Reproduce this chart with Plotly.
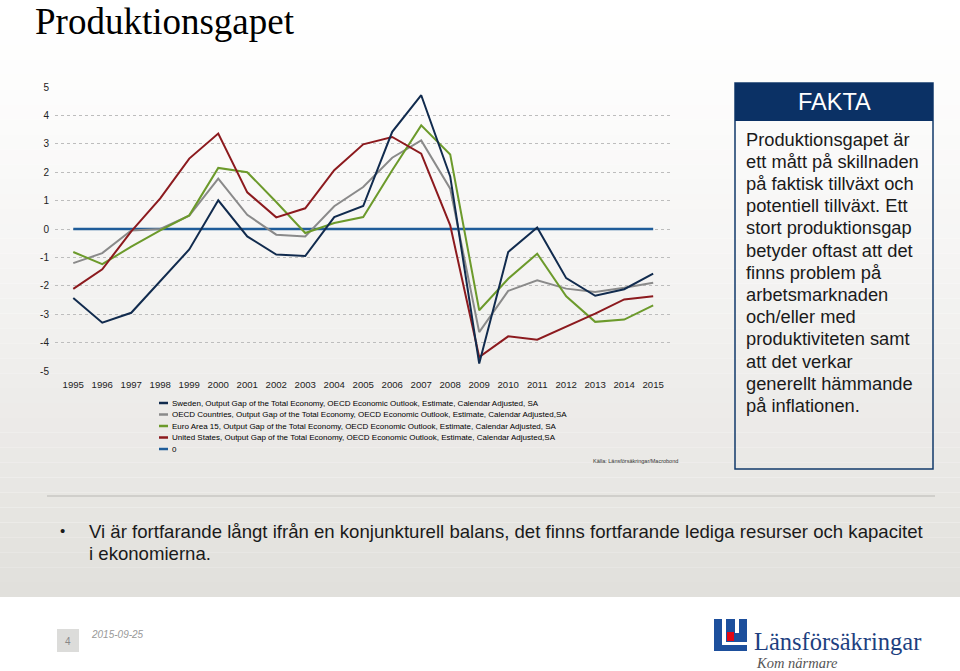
import plotly.graph_objects as go

# data
years = list(range(1995, 2016))

sweden = [-2.43, -3.30, -2.95, -1.85, -0.72, 1.01, -0.26, -0.90, -0.95, 0.42, 0.81,
          3.42, 4.71, 1.85, -4.74, -0.81, 0.05, -1.73, -2.35, -2.12, -1.57]
oecd = [-1.20, -0.85, -0.05, 0.00, 0.47, 1.77, 0.50, -0.20, -0.26, 0.80, 1.48,
        2.51, 3.12, 1.42, -3.63, -2.18, -1.81, -2.10, -2.22, -2.07, -1.89]
euro = [-0.81, -1.24, -0.62, -0.05, 0.48, 2.15, 2.00, 0.95, -0.14, 0.21, 0.42,
        2.07, 3.65, 2.62, -2.86, -1.75, -0.87, -2.37, -3.27, -3.19, -2.69]
usa = [-2.11, -1.42, -0.08, 1.08, 2.48, 3.36, 1.29, 0.41, 0.73, 2.07, 2.98,
       3.24, 2.65, 0.13, -4.51, -3.78, -3.90, -3.43, -2.98, -2.48, -2.37]
zero = [0] * len(years)

y_ticks = [5, 4, 3, 2, 1, 0, -1, -2, -3, -4, -5]
y_ticklabels = ["5", "4", "3", "2", "1", "0", "-1", "-2", "-3", "-4", "-5"]

series_names = [
    "Sweden, Output Gap of the Total Economy, OECD Economic Outlook, Estimate, Calendar Adjusted, SA",
    "OECD Countries, Output Gap of the Total Economy, OECD Economic Outlook, Estimate, Calendar Adjusted,SA",
    "Euro Area 15, Output Gap of the Total Economy, OECD Economic Outlook, Estimate, Calendar Adjusted, SA",
    "United States, Output Gap of the Total Economy, OECD Economic Outlook, Estimate, Calendar Adjusted,SA",
    "0",
]
series_colors = ["#112b4e", "#8a8a8a", "#6c9a2b", "#8c1a1e", "#1f5c99"]

fakta_lines = [
    "Produktionsgapet är", "ett mått på skillnaden", "på faktisk tillväxt och",
    "potentiell tillväxt. Ett", "stort produktionsgap", "betyder oftast att det",
    "finns problem på", "arbetsmarknaden", "och/eller med",
    "produktiviteten samt", "att det verkar", "generellt hämmande",
    "på inflationen.",
]

W, H = 960, 671
L, R, T, B = 55, 290, 87, 300
PW, PH = W - L - R, H - T - B
SANS = "Arial, Liberation Sans, sans-serif"
SERIF = "Times New Roman, Liberation Serif, serif"


def px(x):
    return (x - L) / PW


def py(y):
    return (H - B - y) / PH


fig = go.Figure()

# draw the zero line first, the country series on top
for vals, col, w in [(zero, series_colors[4], 2.6), (oecd, series_colors[1], 2.0),
                     (euro, series_colors[2], 2.0), (usa, series_colors[3], 2.0),
                     (sweden, series_colors[0], 2.0)]:
    fig.add_trace(go.Scatter(x=years, y=vals, mode="lines",
                             line=dict(color=col, width=w), showlegend=False,
                             hoverinfo="skip"))

shapes = []
annotations = []

# slide background: soft vertical gradient, white footer
bands = 40
for i in range(bands):
    y0 = 597 * i / bands
    y1 = 597 * (i + 1) / bands
    t = ((i + 0.5) / bands) ** 1.3
    c = [round(255 - (255 - v) * t) for v in (225, 223, 219)]
    shapes.append(dict(type="rect", xref="paper", yref="paper", layer="below",
                       x0=px(0), x1=px(W), y0=py(y1), y1=py(y0),
                       fillcolor="rgb(%d,%d,%d)" % tuple(c), line=dict(width=0)))

# title
annotations.append(dict(text="Produktionsgapet", xref="paper", yref="paper",
                        x=px(33), y=py(22), xanchor="left", yanchor="middle",
                        showarrow=False, font=dict(family=SERIF, size=37, color="#000")))

# legend drawn by hand to match the tight spacing
for i, (name, col) in enumerate(zip(series_names, series_colors)):
    yy = 403 + i * 11.5
    shapes.append(dict(type="line", xref="paper", yref="paper",
                       x0=px(159), x1=px(168), y0=py(yy), y1=py(yy),
                       line=dict(color=col, width=2.5)))
    annotations.append(dict(text=name, xref="paper", yref="paper", x=px(169.5), y=py(yy),
                            xanchor="left", yanchor="middle", showarrow=False,
                            font=dict(family=SANS, size=8, color="#000")))

annotations.append(dict(text="Källa: Länsförsäkringar/Macrobond", xref="paper", yref="paper",
                        x=px(680), y=py(461), xanchor="right", yanchor="middle",
                        showarrow=False, font=dict(family=SANS, size=5.5, color="#333")))

# FAKTA box
shapes.append(dict(type="rect", xref="paper", yref="paper", x0=px(735), x1=px(933),
                   y0=py(469), y1=py(83), line=dict(color="#123a6b", width=1.5)))
shapes.append(dict(type="rect", xref="paper", yref="paper", x0=px(735), x1=px(933),
                   y0=py(121), y1=py(83), fillcolor="#0b3165", line=dict(width=0)))
annotations.append(dict(text="FAKTA", xref="paper", yref="paper", x=px(834), y=py(102),
                        xanchor="center", yanchor="middle", showarrow=False,
                        font=dict(family=SANS, size=23.5, color="white")))
for i, line in enumerate(fakta_lines):
    annotations.append(dict(text=line, xref="paper", yref="paper", x=px(744),
                            y=py(139 + i * 22.2), xanchor="left", yanchor="middle",
                            showarrow=False, font=dict(family=SANS, size=18.3, color="#1a1a1a")))

# separator and bullet text
shapes.append(dict(type="line", xref="paper", yref="paper", x0=px(47), x1=px(935),
                   y0=py(496), y1=py(496), line=dict(color="#c9c7c3", width=1.5)))
annotations.append(dict(text="•", xref="paper", yref="paper", x=px(62), y=py(530),
                        xanchor="center", yanchor="middle", showarrow=False,
                        font=dict(family=SANS, size=15, color="#1a1a1a")))
annotations.append(dict(
    text="Vi är fortfarande långt ifrån en konjunkturell balans, det finns fortfarande lediga resurser och kapacitet",
    xref="paper", yref="paper", x=px(87), y=py(531), xanchor="left", yanchor="middle",
    showarrow=False, font=dict(family=SANS, size=18.6, color="#1a1a1a")))
annotations.append(dict(text="i ekonomierna.", xref="paper", yref="paper", x=px(87), y=py(553),
                        xanchor="left", yanchor="middle", showarrow=False,
                        font=dict(family=SANS, size=18.6, color="#1a1a1a")))

# footer: page number and date
shapes.append(dict(type="rect", xref="paper", yref="paper", x0=px(57), x1=px(79),
                   y0=py(652), y1=py(629), fillcolor="#dcdcda", line=dict(width=0)))
annotations.append(dict(text="4", xref="paper", yref="paper", x=px(68), y=py(641),
                        xanchor="center", yanchor="middle", showarrow=False,
                        font=dict(family=SANS, size=10, color="#888")))
annotations.append(dict(text="<i>2015-09-25</i>", xref="paper", yref="paper", x=px(89),
                        y=py(634), xanchor="left", yanchor="middle", showarrow=False,
                        font=dict(family=SANS, size=10, color="#999")))

# logo
shapes.append(dict(type="rect", xref="paper", yref="paper", x0=px(714), x1=px(747),
                   y0=py(651), y1=py(619), fillcolor="#1d4f9c", line=dict(width=0)))
for x0, x1, y0, y1 in [(722, 726, 619, 645), (722, 747, 642, 645), (735, 739, 619, 633)]:
    shapes.append(dict(type="rect", xref="paper", yref="paper", x0=px(x0), x1=px(x1),
                       y0=py(y1), y1=py(y0), fillcolor="white", line=dict(width=0)))
shapes.append(dict(type="rect", xref="paper", yref="paper", x0=px(727), x1=px(734),
                   y0=py(641), y1=py(632), fillcolor="#e30613", line=dict(width=0)))
annotations.append(dict(text="Länsförsäkringar", xref="paper", yref="paper", x=px(752),
                        y=py(641), xanchor="left", yanchor="middle", showarrow=False,
                        font=dict(family=SERIF, size=24.5, color="#1d3f80")))
annotations.append(dict(text="<i>Kom närmare</i>", xref="paper", yref="paper", x=px(754),
                        y=py(663), xanchor="left", yanchor="middle", showarrow=False,
                        font=dict(family=SERIF, size=14.5, color="#555")))

fig.update_layout(
    width=W, height=H,
    margin=dict(l=L, r=R, t=T, b=B),
    paper_bgcolor="white",
    plot_bgcolor="rgba(0,0,0,0)",
    shapes=shapes,
    annotations=annotations,
    font=dict(family=SANS, color="#222"),
)
fig.update_xaxes(range=[1994.37, 2015.58], tickvals=years, ticks="", showgrid=False,
                 zeroline=False, showline=False, tickfont=dict(size=9.6, color="#222"),
                 ticklabelstandoff=6)
fig.update_yaxes(range=[-5, 5], tickvals=y_ticks, ticktext=y_ticklabels, ticks="",
                 showgrid=True, gridcolor="#bdbdbd", griddash="dot", gridwidth=1,
                 zeroline=False, showline=False, tickfont=dict(size=10, color="#222"),
                 ticklabelstandoff=5)

# the page body has a default 8px margin; drop it so the figure fills the window
fig.write_html("out.html", config={"displayModeBar": False},
               post_script="document.body.style.margin='0';")
